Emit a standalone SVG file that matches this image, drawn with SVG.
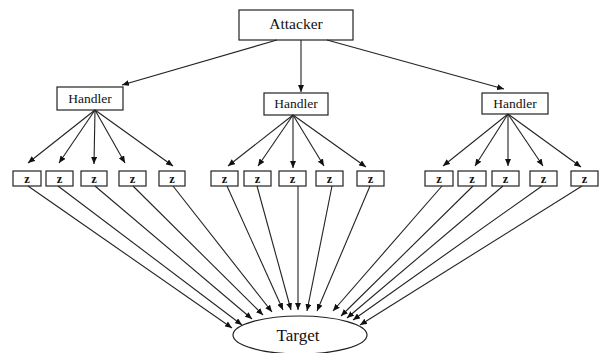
<svg xmlns="http://www.w3.org/2000/svg" width="601" height="353" viewBox="0 0 601 353">
<style>
.box{fill:#fff;stroke:#222;stroke-width:1.2}
.t{font-family:"Liberation Serif","Times New Roman",serif;fill:#111;text-anchor:middle}
.z{font-family:"Liberation Serif","Times New Roman",serif;fill:#111;text-anchor:middle;font-size:12.5px;font-weight:bold}
.c line{stroke:#222;stroke-width:1.1;marker-end:url(#ah)}
</style>
<defs>
<marker id="ah" markerUnits="userSpaceOnUse" markerWidth="8" markerHeight="6" refX="7" refY="3" orient="auto">
<path d="M0,0 L7,3 L0,6 Z" fill="#111"/>
</marker>
</defs>
<rect width="601" height="353" fill="#fff"/>
<g id="attacker"><rect class="box" x="239" y="10" width="114" height="30"/><text class="t" x="296" y="29" font-size="15.5">Attacker</text></g>
<g id="handler-left"><rect class="box" x="57" y="87" width="66" height="23"/><text class="t" x="90" y="103" font-size="13.5">Handler</text></g>
<g id="handler-mid"><rect class="box" x="264" y="93" width="64" height="22"/><text class="t" x="296" y="108" font-size="13.5">Handler</text></g>
<g id="handler-right"><rect class="box" x="482" y="93" width="66" height="21"/><text class="t" x="515" y="108" font-size="13.5">Handler</text></g>
<g id="z-l1"><rect class="box" x="13" y="171" width="28" height="15"/><text class="z" x="27" y="182.5">z</text></g>
<g id="z-l2"><rect class="box" x="46" y="171" width="27" height="15"/><text class="z" x="59.5" y="182.5">z</text></g>
<g id="z-l3"><rect class="box" x="81" y="171" width="26" height="15"/><text class="z" x="94" y="182.5">z</text></g>
<g id="z-l4"><rect class="box" x="119" y="171" width="27" height="15"/><text class="z" x="132.5" y="182.5">z</text></g>
<g id="z-l5"><rect class="box" x="159" y="171" width="26" height="15"/><text class="z" x="172" y="182.5">z</text></g>
<g id="z-m1"><rect class="box" x="211" y="171" width="27" height="15"/><text class="z" x="224.5" y="182.5">z</text></g>
<g id="z-m2"><rect class="box" x="244" y="171" width="27" height="15"/><text class="z" x="257.5" y="182.5">z</text></g>
<g id="z-m3"><rect class="box" x="279" y="171" width="27" height="15"/><text class="z" x="292.5" y="182.5">z</text></g>
<g id="z-m4"><rect class="box" x="316" y="171" width="27" height="15"/><text class="z" x="329.5" y="182.5">z</text></g>
<g id="z-m5"><rect class="box" x="357" y="171" width="27" height="15"/><text class="z" x="370.5" y="182.5">z</text></g>
<g id="z-r1"><rect class="box" x="425" y="171" width="28" height="15"/><text class="z" x="439" y="182.5">z</text></g>
<g id="z-r2"><rect class="box" x="458" y="171" width="28" height="15"/><text class="z" x="472" y="182.5">z</text></g>
<g id="z-r3"><rect class="box" x="492" y="171" width="27" height="15"/><text class="z" x="505.5" y="182.5">z</text></g>
<g id="z-r4"><rect class="box" x="530" y="171" width="27" height="15"/><text class="z" x="543.5" y="182.5">z</text></g>
<g id="z-r5"><rect class="box" x="571" y="171" width="27" height="15"/><text class="z" x="584.5" y="182.5">z</text></g>
<g id="target"><ellipse class="box" cx="300" cy="335" rx="67" ry="19"/><text class="t" x="298" y="341" font-size="17">Target</text></g>
<g id="connectors" class="c">
<line x1="277" y1="40" x2="122" y2="85"/>
<line x1="301" y1="40" x2="301" y2="92"/>
<line x1="327" y1="40" x2="504" y2="89"/>
<line x1="95" y1="110" x2="28" y2="163"/>
<line x1="95" y1="110" x2="59" y2="163"/>
<line x1="95" y1="110" x2="94" y2="164"/>
<line x1="95" y1="110" x2="125" y2="163"/>
<line x1="95" y1="110" x2="173" y2="166"/>
<line x1="293" y1="115" x2="228" y2="166"/>
<line x1="293" y1="115" x2="258" y2="166"/>
<line x1="293" y1="115" x2="293" y2="168"/>
<line x1="293" y1="115" x2="324" y2="166"/>
<line x1="293" y1="115" x2="366" y2="167"/>
<line x1="508" y1="114" x2="443" y2="166"/>
<line x1="508" y1="114" x2="475" y2="166"/>
<line x1="508" y1="114" x2="508" y2="166"/>
<line x1="508" y1="114" x2="543" y2="166"/>
<line x1="508" y1="114" x2="581" y2="167"/>
<line x1="28" y1="186" x2="232" y2="328"/>
<line x1="58" y1="186" x2="242" y2="325"/>
<line x1="95" y1="186" x2="252" y2="319"/>
<line x1="133" y1="186" x2="263" y2="315"/>
<line x1="173" y1="186" x2="272" y2="312"/>
<line x1="227" y1="186" x2="283" y2="310"/>
<line x1="257" y1="186" x2="291" y2="310"/>
<line x1="298" y1="186" x2="298" y2="310"/>
<line x1="332" y1="186" x2="307" y2="311"/>
<line x1="370" y1="186" x2="317" y2="311"/>
<line x1="442" y1="186" x2="333" y2="311"/>
<line x1="473" y1="186" x2="341" y2="316"/>
<line x1="503" y1="186" x2="347" y2="318"/>
<line x1="542" y1="186" x2="353" y2="320"/>
<line x1="582" y1="186" x2="360" y2="325"/>
</g>
</svg>
